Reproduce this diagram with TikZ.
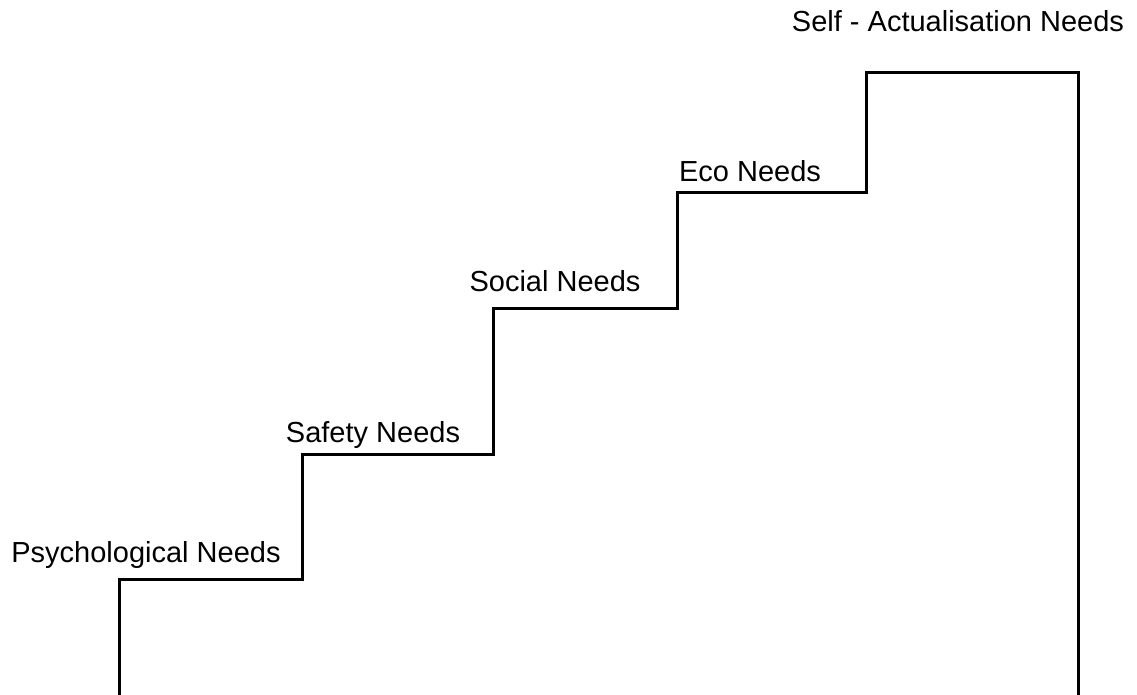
\documentclass[tikz,border=0pt]{standalone}
\usepackage{fontspec}
\setmainfont{Liberation Sans}
\usetikzlibrary{positioning,calc}
\tikzset{
    need/.style={font=\fontsize{14.5}{16}\selectfont, anchor=base, inner sep=0pt},
    stair/.style={draw, line width=1.5pt, line join=miter}
}
\begin{document}
\begin{tikzpicture}[x=0.5pt, y=-0.5pt]
        \useasboundingbox (0,0) rectangle (1137,695);
        % corners of the stairs
        \coordinate (b1) at (119,695);
        \coordinate (s1) at (119,580);
        \coordinate (s2) at (302,580);
        \coordinate (s3) at (302,455);
        \coordinate (s4) at (493,455);
        \coordinate (s5) at (493,309);
        \coordinate (s6) at (677,309);
        \coordinate (s7) at (677,193);
        \coordinate (s8) at (866,193);
        \coordinate (s9) at (866,73);
        \coordinate (s10) at (1078,73);
        \coordinate (b2) at (1078,695);

        \draw[stair] (b1) -- (s1) -- (s2) -- (s3) -- (s4) -- (s5) -- (s6) -- (s7) -- (s8) -- (s9) -- (s10) -- (b2);

        \node[need] (psy) at (146,563) {Psychological Needs};
        \node[need] (safe) at (373,443) {Safety Needs};
        \node[need] (soc) at (555,292) {Social Needs};
        \node[need] (eco) at (750,182) {Eco Needs};
        \node[need] (self) at (958,32) {Self - Actualisation Needs};
    \end{tikzpicture}
\end{document}
